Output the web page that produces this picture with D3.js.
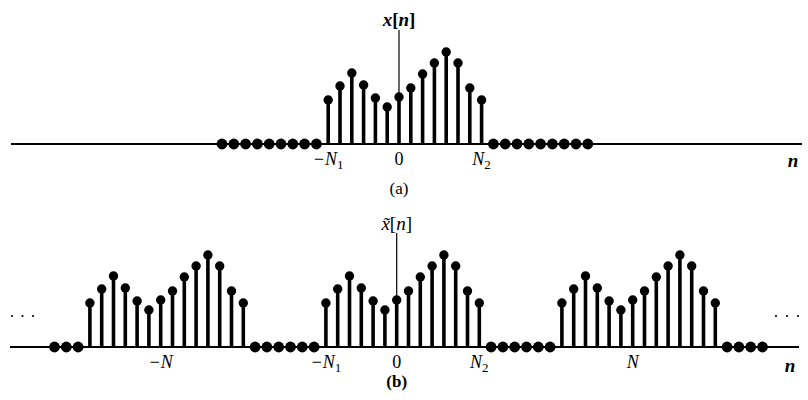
<!DOCTYPE html>
<html>
<head>
<meta charset="utf-8">
<script src="https://cdn.jsdelivr.net/npm/d3@7"></script>
<style>
  body { margin: 0; background: #fff; }
  svg { display: block; }
  text { font-family: "Liberation Serif", "Times New Roman", serif; fill: #000; }
</style>
</head>
<body>
<div id="chart"></div>
<script>
// one period of the nonzero part, n = -N1 .. N2
const N1 = 6;
const N2 = 7;
const period = 20;
const xValues = [4.4, 5.8, 7.1, 5.9, 4.6, 3.7, 4.7, 5.6, 7.0, 8.1, 9.2, 8.1, 5.6, 4.4];

// sample ranges shown in each panel
const topRange = [-15, 16];
const bottomRange = [-29, 31];

const topTicks = [
  { n: -N1, label: "\u2212N", sub: "1" },
  { n: 0, label: "0", sub: null, upright: true },
  { n: N2, label: "N", sub: "2" }
];
const bottomTicks = [
  { n: -period, label: "\u2212N", sub: null },
  { n: -N1, label: "\u2212N", sub: "1" },
  { n: 0, label: "0", sub: null, upright: true },
  { n: N2, label: "N", sub: "2" },
  { n: period, label: "N", sub: null }
];

const width = 808, height = 400;

const svg = d3.select("#chart").append("svg")
  .attr("width", width)
  .attr("height", height);

const amp = d3.scaleLinear().domain([0, 10]).range([0, 100]);

function xOf(n) {
  return (n >= -N1 && n <= N2) ? xValues[n + N1] : 0;
}
function xTilde(n) {
  const m = ((n + N1) % period + period) % period - N1;
  return xOf(m);
}

function drawPanel(opts) {
  const g = svg.append("g");
  const x = d3.scaleLinear().domain(opts.domain).range(opts.range);
  const y0 = opts.axisY;
  const data = d3.range(opts.domain[0], opts.domain[1] + 1)
    .map(n => ({ n, v: opts.fn(n) }));

  // axis line
  g.append("line")
    .attr("x1", opts.axisX[0]).attr("x2", opts.axisX[1])
    .attr("y1", y0).attr("y2", y0)
    .attr("stroke", "#000").attr("stroke-width", 2);

  // thin line for the vertical axis label
  g.append("line")
    .attr("x1", x(0)).attr("x2", x(0))
    .attr("y1", y0).attr("y2", opts.labelLineTop)
    .attr("stroke", "#000").attr("stroke-width", 1.2);

  const nz = data.filter(d => d.v !== 0);
  const zero = data.filter(d => d.v === 0);

  g.selectAll(".stem")
    .data(nz)
    .join("line")
    .attr("class", "stem")
    .attr("x1", d => x(d.n)).attr("x2", d => x(d.n))
    .attr("y1", y0).attr("y2", d => y0 - amp(d.v))
    .attr("stroke", "#000").attr("stroke-width", 3.6);

  g.selectAll(".head")
    .data(nz)
    .join("circle")
    .attr("class", "head")
    .attr("cx", d => x(d.n))
    .attr("cy", d => y0 - amp(d.v))
    .attr("r", 4.7)
    .attr("fill", "#000");

  g.selectAll(".zero")
    .data(zero)
    .join("circle")
    .attr("class", "zero")
    .attr("cx", d => x(d.n))
    .attr("cy", y0)
    .attr("r", 5.4)
    .attr("fill", "#000");

  // tick labels
  opts.ticks.forEach(t => {
    const txt = g.append("text")
      .attr("x", x(t.n))
      .attr("y", opts.tickY)
      .attr("text-anchor", "middle")
      .style("font-size", "18px")
      .style("font-style", t.upright ? "normal" : "italic");
    txt.append("tspan").text(t.label);
    if (t.sub) {
      txt.append("tspan")
        .attr("dy", 4)
        .style("font-size", "13px")
        .style("font-style", "normal")
        .text(t.sub);
    }
  });

  // axis name n
  g.append("text")
    .attr("x", opts.nLabel[0]).attr("y", opts.nLabel[1])
    .attr("text-anchor", "middle")
    .style("font-size", "19px")
    .style("font-style", "italic")
    .style("font-weight", "bold")
    .text("n");

  // caption
  g.append("text")
    .attr("x", x(0)).attr("y", opts.captionY)
    .attr("text-anchor", "middle")
    .style("font-size", "17px")
    .style("font-weight", opts.captionBold ? "bold" : "normal")
    .text(opts.caption);

  return { g, x };
}

// (a) aperiodic signal
const panelA = drawPanel({
  domain: topRange,
  range: [222, 222 + 31 * 11.8],
  axisY: 144,
  axisX: [11, 802],
  fn: xOf,
  ticks: topTicks,
  tickY: 165,
  nLabel: [793, 167],
  caption: "(a)",
  captionY: 194,
  labelLineTop: 30
});

panelA.g.append("text")
  .attr("x", panelA.x(0)).attr("y", 26)
  .attr("text-anchor", "middle")
  .style("font-size", "19px")
  .style("font-weight", "bold")
  .html('<tspan font-style="italic">x</tspan>[<tspan font-style="italic">n</tspan>]');

// (b) periodic extension
const panelB = drawPanel({
  domain: bottomRange,
  range: [396.7 - 29 * 11.8, 396.7 + 31 * 11.8],
  axisY: 347,
  axisX: [10, 799],
  fn: xTilde,
  ticks: bottomTicks,
  tickY: 368,
  nLabel: [790, 372],
  caption: "(b)",
  captionY: 387,
  captionBold: true,
  labelLineTop: 233
});

panelB.g.append("text")
  .attr("x", panelB.x(0)).attr("y", 230)
  .attr("text-anchor", "middle")
  .style("font-size", "19px")
  .html('<tspan font-style="italic">x\u0303</tspan>[<tspan font-style="italic">n</tspan>]');

// continuation dots
[[12, 33], [776, 798]].forEach(([a, b]) => {
  panelB.g.selectAll(null)
    .data(d3.range(3))
    .join("circle")
    .attr("cx", i => a + i * (b - a) / 2)
    .attr("cy", 316)
    .attr("r", 1.1)
    .attr("fill", "#000");
});
</script>
</body>
</html>
